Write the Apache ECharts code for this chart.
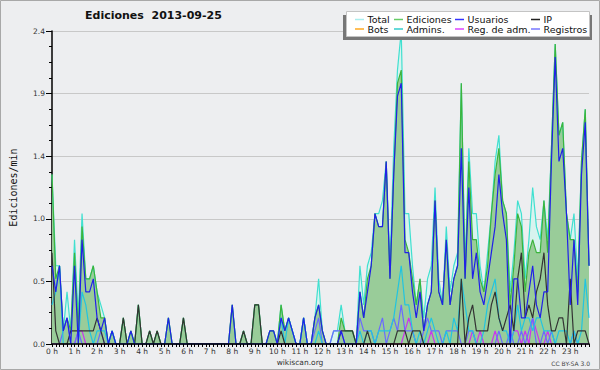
<!DOCTYPE html>
<html>
<head>
<meta charset="utf-8">
<script src="https://cdn.jsdelivr.net/npm/echarts@6/dist/echarts.min.js"></script>
<style>
html,body{margin:0;padding:0;background:#edeef0;}
#chart{width:600px;height:370px;}
</style>
</head>
<body>
<div id="chart"></div>
<script>
// Hour tick labels (one every 6 ten-minute bins)
var hourLabels = ['0 h','1 h','2 h','3 h','4 h','5 h','6 h','7 h','8 h','9 h','10 h','11 h',
  '12 h','13 h','14 h','15 h','16 h','17 h','18 h','19 h','20 h','21 h','22 h','23 h'];
var yTicks = [0, 0.48, 0.96, 1.44, 1.92, 2.4];

// Values per 10-minute bin (edits/min), 144 bins
var total = [
1.3,0.6,0.6,0.1,0.4,0.1, 0.8,0.2,1.0,0.5,0.5,0.6, 0.4,0.3,0.2,0,0.1,0, 0,0.2,0,0.1,0,0.3,
0,0,0.1,0,0.1,0, 0,0.2,0,0,0,0.2, 0,0,0,0,0,0, 0,0,0,0,0,0,
0.3,0,0,0.1,0,0, 0.3,0.3,0,0,0.1,0.1, 0,0.3,0.1,0.2,0.1,0, 0,0.2,0,0,0.2,0.5,
0.1,0,0,0.1,0.1,0.3, 0.1,0.1,0.1,0,0.6,0.3, 0.6,0.7,1.0,1.0,1.1,1.4, 0.6,1.5,2.1,2.4,1.0,1.0,
0.6,0.3,0.5,0.2,0.5,0.6, 1.2,0.5,0.3,0.9,0.4,0.6, 0.7,2.0,0.6,1.5,1.0,1.0, 0.6,0.4,0.7,1.0,1.4,1.6,
1.1,1.0,0.4,0.7,1.1,1.0, 0.5,0.8,1.2,0.9,0.8,1.1, 0.8,1.5,2.3,1.6,1.7,1.0, 0.8,1.0,0.5,1.4,1.8,0.6];
var ediciones = [
1.3,0.5,0.6,0.1,0.2,0.1, 0.7,0.1,0.9,0.5,0.5,0.6, 0.4,0.2,0.2,0,0.1,0, 0,0.2,0,0.1,0,0.3,
0,0,0.1,0,0.1,0, 0,0.2,0,0,0,0.2, 0,0,0,0,0,0, 0,0,0,0,0,0,
0.3,0,0,0.1,0,0, 0.3,0.3,0,0,0.1,0.1, 0,0.3,0.1,0.2,0.1,0, 0,0.2,0,0,0.2,0.3,
0.1,0,0,0,0,0.2, 0.1,0.1,0.1,0,0.4,0.2, 0.5,0.6,1.0,0.9,0.9,1.4, 0.5,1.3,2.0,2.1,0.8,0.7,
0.5,0.3,0.5,0.1,0.3,0.4, 1.1,0.4,0.3,0.8,0.3,0.5, 0.6,2.0,0.5,1.4,0.8,0.8, 0.5,0.4,0.6,1.0,1.3,1.5,
1.1,1.0,0.3,0.6,1.0,0.9, 0.4,0.7,0.8,0.7,0.7,1.1, 0.7,1.5,2.3,1.6,1.7,1.0, 0.8,0.8,0.4,1.4,1.8,0.6];
var usuarios = [
0.6,0.4,0.6,0.1,0.2,0, 0.6,0,0.8,0.4,0.4,0.5, 0.2,0.1,0.2,0,0.1,0, 0,0,0,0.1,0,0,
0,0,0,0,0,0, 0,0.2,0,0,0,0, 0,0,0,0,0,0, 0,0,0,0,0,0,
0.3,0,0,0,0,0, 0,0,0,0,0.1,0.1, 0,0.2,0.1,0.2,0.1,0, 0,0.2,0,0,0.2,0.3,
0.1,0,0,0,0,0.1, 0,0,0,0,0.4,0.2, 0.4,0.6,1.0,0.9,0.9,1.4, 0.5,1.3,1.9,2.0,0.7,0.7,
0.4,0.2,0.4,0.1,0.3,0.4, 1.1,0.4,0.3,0.8,0.3,0.5, 0.6,1.5,0.5,1.2,0.5,0.7, 0.4,0.3,0.5,0.7,0.9,1.3,
1.0,0.8,0,0.5,0.5,0.2, 0.2,0.4,0.6,0.3,0.2,0.4, 0.4,1.4,2.2,1.4,1.5,1.0, 0.3,0.8,0.3,1.3,1.7,0.6];
var ip = [
0.7,0.1,0,0,0,0.1, 0.1,0.1,0.1,0.1,0.1,0.1, 0.2,0.1,0,0,0,0, 0,0.2,0,0,0,0.3,
0,0,0.1,0,0.1,0, 0,0,0,0,0,0.2, 0,0,0,0,0,0, 0,0,0,0,0,0,
0,0,0,0.1,0,0, 0.3,0.3,0,0,0,0, 0,0.1,0,0,0,0, 0,0,0,0,0,0,
0,0,0,0,0,0.1, 0.1,0.1,0.1,0,0,0, 0.1,0,0,0,0,0, 0,0,0.1,0.1,0.1,0,
0.1,0.1,0.1,0,0,0, 0,0,0,0,0,0, 0,0.5,0,0.2,0.3,0.1, 0.1,0.1,0.1,0.3,0.4,0.2,
0.1,0.2,0.3,0.1,0.5,0.7, 0.2,0.3,0.2,0.4,0.5,0.7, 0.3,0.1,0.1,0.2,0.2,0, 0.5,0,0.1,0.1,0.1,0];
var bots = [
0,0,0,0,0,0, 0,0,0,0,0,0, 0,0,0,0,0,0, 0,0,0,0,0,0,
0,0,0,0,0,0, 0,0,0,0,0,0, 0,0,0,0,0,0, 0,0,0,0,0,0,
0,0,0,0,0,0, 0,0,0,0,0,0, 0,0,0,0,0,0, 0,0,0,0,0,0,
0,0,0,0,0,0, 0,0,0,0,0,0, 0,0,0,0,0,0, 0,0,0,0,0,0,
0,0,0,0,0,0, 0,0,0,0,0,0, 0,0,0,0,0,0, 0,0,0,0,0,0,
0,0,0,0,0,0, 0,0,0,0,0,0, 0,0,0,0,0,0, 0,0,0,0,0,0];
var admins = [
0.3,0.4,0.6,0,0,0, 0,0,0.4,0.3,0.1,0, 0.1,0.1,0.1,0,0.1,0, 0,0,0,0,0,0,
0,0,0,0,0,0, 0,0,0,0,0,0, 0,0,0,0,0,0, 0,0,0,0,0,0,
0,0,0,0,0,0, 0,0,0,0,0,0, 0,0.2,0,0.2,0.1,0, 0,0.2,0,0,0,0.1,
0,0,0,0,0,0, 0,0,0,0,0.1,0, 0.1,0.1,0,0.1,0.1,0.1, 0.1,0.2,0.4,0.6,0.3,0.3,
0.1,0,0.1,0,0.1,0.2, 0.1,0,0,0.1,0,0.2, 0.1,0.5,0.3,0.1,0.1,0, 0,0.1,0.3,0.4,0.5,0.2,
0.1,0.1,0,0.1,0.3,0.1, 0.2,0.2,0.1,0.2,0.2,0.1, 0.1,0.1,0,0.1,0.1,0.1, 0,0.1,0,0.1,0.5,0.2];
var regAdm = [
0,0,0,0,0,0, 0,0.1,0.1,0,0,0, 0,0,0,0,0,0, 0,0,0,0,0,0,
0,0,0,0,0,0, 0,0,0,0,0,0, 0,0,0,0,0,0, 0,0,0,0,0,0,
0,0,0,0,0,0, 0,0,0,0,0,0, 0,0,0,0,0,0, 0,0,0,0,0,0,
0,0,0,0,0,0, 0,0,0,0,0,0, 0,0,0,0,0,0, 0,0,0,0,0.1,0.2,
0.1,0,0,0,0,0.1, 0,0,0,0,0,0, 0,0,0,0,0.1,0, 0.1,0,0,0,0.1,0,
0,0,0,0.1,0.1,0, 0.1,0,0.2,0.1,0,0, 0.1,0,0,0,0,0, 0,0,0,0,0,0];
var registros = [
0,0,0,0.1,0.2,0, 0,0.1,0,0,0,0, 0,0.1,0,0,0,0, 0,0,0,0,0,0,
0,0,0,0,0,0, 0,0,0,0,0,0, 0,0,0,0,0,0, 0,0,0,0,0,0,
0,0,0,0,0,0, 0,0,0,0,0,0, 0,0,0,0,0,0, 0,0,0,0,0.1,0.2,
0,0,0,0.1,0.1,0.1, 0,0,0,0,0.2,0.1, 0.1,0.1,0,0.1,0.2,0, 0.1,0.2,0.1,0.3,0.1,0.1,
0.1,0,0,0.1,0.2,0.1, 0.1,0.1,0,0.1,0.1,0.1, 0.1,0,0,0.1,0.1,0, 0,0,0,0,0,0.1,
0,0,0.1,0,0,0.1, 0,0.1,0.2,0,0,0.1, 0,0.1,0,0,0,0, 0,0.1,0,0,0,0];

// Legend entries (name, icon colour), laid out 4 columns x 2 rows
var legendNames = ['Total', 'Ediciones', 'Usuarios', 'IP', 'Bots', 'Admins.', 'Reg. de adm.', 'Registros'];
var legendColors = ['#aaeeee', '#66cc66', '#3333ff', '#222222', '#ffaa22', '#33cccc', '#dd44ff', '#7777ff'];

var categories = [];
for (var h = 0; h < 24; h++) for (var m = 0; m < 60; m += 10) categories.push(h + ':' + (m < 10 ? '0' : '') + m);

var FONT = 'DejaVu Sans';
function lineSeries(name, data, color, extra) {
  var s = {name: name, type: 'line', data: data, symbol: 'none', showSymbol: false,
    lineStyle: {color: color, width: 1.2}, itemStyle: {color: color}, z: 2};
  if (extra) for (var k in extra) s[k] = extra[k];
  return s;
}

var graphics = [
  {type: 'rect', z: 100, shape: {x: 343, y: 15, width: 249, height: 25}, style: {fill: '#777777'}},
  {type: 'rect', z: 101, shape: {x: 346.5, y: 11.5, width: 243, height: 25}, style: {fill: '#ffffff', stroke: '#c4c4c4', lineWidth: 1}},
  {type: 'text', z: 101, style: {text: 'wikiscan.org', x: 300, y: 362, textAlign: 'center', textVerticalAlign: 'middle', font: '7.5px "DejaVu Sans"', fill: '#333'}},
  {type: 'text', z: 101, style: {text: 'CC BY-SA 3.0', x: 590, y: 363, textAlign: 'right', textVerticalAlign: 'middle', font: '6px "DejaVu Sans"', fill: '#444'}},
  {type: 'rect', z: 102, shape: {x: 0.5, y: 0.5, width: 599, height: 369}, style: {fill: 'none', stroke: '#a8a8a8', lineWidth: 1}}
];
var colX = [355, 394, 455, 531], rowY = [19.5, 29];
legendNames.forEach(function (name, i) {
  var x = colX[i % 4], y = rowY[Math.floor(i / 4)];
  graphics.push({type: 'line', z: 103, shape: {x1: x, y1: y, x2: x + 9, y2: y}, style: {stroke: legendColors[i], lineWidth: 1.5}});
  graphics.push({type: 'text', z: 103, style: {text: name, x: x + 12.5, y: y, textAlign: 'left', textVerticalAlign: 'middle', font: '9.5px "DejaVu Sans"', fill: '#111'}});
});

var chart = echarts.init(document.getElementById('chart'), null, {renderer: 'svg'});
chart.setOption({
  animation: false,
  backgroundColor: '#edeef0',
  title: {text: 'Ediciones  2013-09-25', left: 85, top: 10, padding: 0,
    textStyle: {fontFamily: FONT, fontSize: 11, fontWeight: 'bold', color: '#111'}},
  grid: {left: 46, right: 11, top: 31, bottom: 26},
  xAxis: {
    type: 'category', data: categories, boundaryGap: false, z: 10,
    axisLine: {show: true, lineStyle: {color: '#000', width: 1.5}},
    axisTick: {show: true, interval: 0, length: 3, lineStyle: {color: '#000'}},
    axisLabel: {interval: 5, margin: 3, fontFamily: FONT, fontSize: 7.5, color: '#333',
      formatter: function (v, i) { return hourLabels[Math.floor(i / 6)]; }},
    splitLine: {show: false}
  },
  yAxis: {
    type: 'value', min: yTicks[0], max: yTicks[yTicks.length - 1], interval: yTicks[1],
    name: 'Ediciones/min', nameLocation: 'middle', nameGap: 34, nameRotate: 90,
    nameTextStyle: {fontFamily: 'DejaVu Sans Mono', fontSize: 10, color: '#111'},
    axisLine: {show: true, lineStyle: {color: '#000', width: 1.5}},
    axisTick: {show: true, length: 6, lineStyle: {color: '#000'}},
    minorTick: {show: true, splitNumber: 4, length: 3, lineStyle: {color: '#000'}},
    axisLabel: {margin: 7, fontFamily: FONT, fontSize: 7.5, color: '#333',
      formatter: function (v) { return v.toFixed(1); }},
    splitLine: {show: true, lineStyle: {color: '#c8c8c8', width: 1}}
  },
  series: [
    lineSeries('Total', total, '#40e0d0', {areaStyle: {color: '#d8f3ef', opacity: 1}}),
    lineSeries('Ediciones', ediciones, '#3cb43c', {areaStyle: {color: '#99cc99', opacity: 1}}),
    lineSeries('Bots', bots, '#ff9900'),
    lineSeries('Reg. de adm.', regAdm, '#cc33ee'),
    lineSeries('Registros', registros, '#6a6aff'),
    lineSeries('Admins.', admins, '#22c4e0'),
    lineSeries('IP', ip, '#333333'),
    lineSeries('Usuarios', usuarios, '#2020e8')
  ],
  graphic: graphics
});
</script>
</body>
</html>
